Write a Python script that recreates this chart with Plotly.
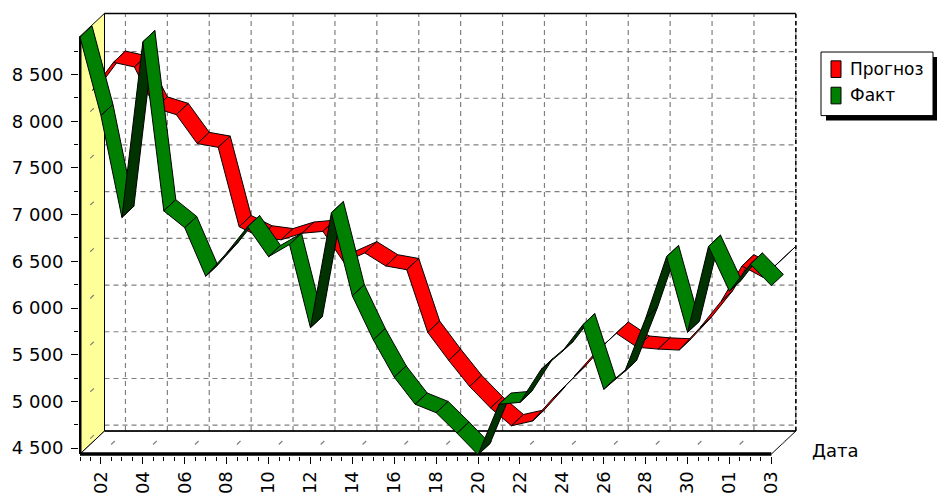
import plotly.graph_objects as go

# ---------------- data ----------------
days = ["01", "02", "03", "04", "05", "06", "07", "08", "09", "10",
        "11", "12", "13", "14", "15", "16", "17", "18", "19", "20",
        "21", "22", "23", "24", "25", "26", "27", "28", "29", "30",
        "31", "01", "02", "03"]

forecast = [8210, 8510, 8460, 8020, 7950, 7640, 7600, 6750, 6640, 6610,
            6680, 6700, 6370, 6470, 6330, 6290, 5620, 5320, 5040, 4810,
            4620, 4670, 4920, 5150, 5400, 5610, 5460, 5440, 5430, 5670,
            5950, 6330, 6210, 6420]

actual = [8900, 8060, 6970, 8850, 7040, 6860, 6340, 6590, 6870, 6550,
          6680, 5790, 7020, 6130, 5660, 5260, 4970, 4880, 4660, 4430,
          4970, 4990, 5340, 5530, 5820, 5130, 5320, 5890, 6550, 5740,
          6660, 6180, 6470, 6240]

series_names = ["Прогноз", "Факт"]
y_ticks = [4500, 5000, 5500, 6000, 6500, 7000, 7500, 8000, 8500]
y_tick_labels = ["4 500", "5 000", "5 500", "6 000", "6 500", "7 000", "7 500", "8 000", "8 500"]
y_minor = [4750, 5250, 5750, 6250, 6750, 7250, 7750, 8250, 8750]
x_tick_idx = list(range(1, len(days), 2))
x_tick_labels = [days[i] for i in x_tick_idx]
x_title = "Дата"

# ---------------- geometry / style ----------------
W, H = 938, 502
PL, PR, PT, PB = 79, 800, 8, 466          # plot area in pixels
PX_CAT = 20.95                             # px per category
PX_VAL = 0.0955                            # px per value unit
X_FRONT0 = 80                              # pixel of first category (front)
Y_REF_PX, Y_REF_V = 458, 4500

def v_at(py):
    return Y_REF_V + (Y_REF_PX - py) / PX_VAL

def u_at(px):
    return (px - X_FRONT0) / PX_CAT

X_RANGE = [u_at(PL), u_at(PR)]
Y_RANGE = [v_at(PB), v_at(PT)]
V_FLOOR = v_at(464)
V_TOP = v_at(37)
N_LAST = len(days) - 1

RIB_PX = (12, 11.5)                                # ribbon depth in px (right, up)
RIB_DX, RIB_DY = RIB_PX[0] / PX_CAT, RIB_PX[1] / PX_VAL
WALL_DX, WALL_DY = 24.5 / PX_CAT, 23.5 / PX_VAL    # full depth to back wall
SLOTS = {"Факт": (0.0, 0.0), "Прогноз": (12.5 / PX_CAT, 11.5 / PX_VAL)}

GREEN, GREEN_DARK = "#008000", "#003300"
RED, RED_DARK = "#FF0000", "#FF0000"
GRID = "#808080"
WALL_YELLOW = "#FFFF99"
FONT = "DejaVu Sans"

fig = go.Figure()

def add_ribbon(vals, name, top_col, under_col):
    ox, oy = SLOTS[name]
    for i in range(len(vals) - 1):
        x0, x1 = i + ox, i + 1 + ox
        y0, y1 = vals[i] + oy, vals[i + 1] + oy
        xs = [x0, x1, x1 + RIB_DX, x0 + RIB_DX, x0]
        ys = [y0, y1, y1 + RIB_DY, y0 + RIB_DY, y0]
        cross = PX_CAT * RIB_PX[1] - (vals[i + 1] - vals[i]) * PX_VAL * RIB_PX[0]
        col = top_col if cross > 0 else under_col
        fig.add_trace(go.Scatter(
            x=xs, y=ys, mode="lines", fill="toself", fillcolor=col,
            line=dict(color="black", width=1), name=name,
            legendgroup=name, showlegend=False, hoverinfo="skip"))

# back series first, front series on top
add_ribbon(forecast, series_names[0], RED, RED_DARK)
add_ribbon(actual, series_names[1], GREEN, GREEN_DARK)

shapes = []

def path(pts):
    return "M " + " L ".join(f"{x},{y}" for x, y in pts) + " Z"

def seg(x0, y0, x1, y1, color="black", width=1, dash="solid"):
    shapes.append(dict(type="line", xref="x", yref="y", x0=x0, y0=y0, x1=x1, y1=y1,
                       line=dict(color=color, width=width, dash=dash), layer="below"))

# back wall
bx0, bx1 = WALL_DX, N_LAST + WALL_DX
by0, by1 = V_FLOOR + WALL_DY, V_TOP + WALL_DY
shapes.append(dict(type="path", xref="x", yref="y",
                   path=path([(bx0, by0), (bx1, by0), (bx1, by1), (bx0, by1)]),
                   fillcolor="white", line=dict(width=0), layer="below"))
for v in y_ticks:
    seg(bx0, v + WALL_DY, bx1, v + WALL_DY, GRID, 1.2, "5px,4px")
for k in x_tick_idx:
    seg(k + WALL_DX, by0, k + WALL_DX, by1, GRID, 1.2, "5px,4px")
seg(bx0, by1, bx1, by1, "black", 1.5)
seg(bx1, by0, bx1, by1, "black", 1.5, "4px,3px")

# side wall (yellow)
shapes.append(dict(type="path", xref="x", yref="y",
                   path=path([(0, V_FLOOR), (0, V_TOP), (bx0, by1), (bx0, by0)]),
                   fillcolor=WALL_YELLOW, line=dict(color="black", width=1), layer="below"))
for v in y_ticks:
    seg(0, v, WALL_DX, v + WALL_DY, GRID, 1.2, "0px,14px,5px,40px")

# floor
shapes.append(dict(type="path", xref="x", yref="y",
                   path=path([(0, V_FLOOR), (N_LAST, V_FLOOR), (bx1, by0), (bx0, by0)]),
                   fillcolor="white", line=dict(color="black", width=1), layer="below"))
for k in x_tick_idx:
    seg(k, V_FLOOR, k + WALL_DX, by0, GRID, 1.2, "0px,14px,5px,40px")
seg(bx0, by0, bx1, by0, "black", 1.5)

# front axes
seg(0, V_FLOOR, N_LAST, V_FLOOR, "black", 3.5)
seg(0, V_FLOOR, 0, V_TOP, "black", 3)

# ---------------- legend (drawn) ----------------
def pxx(px):
    return (px - PL) / (PR - PL)

def pxy(py):
    return (PB - py) / (PB - PT)

def prect(x0, y0, x1, y1, fill, line_w=1):
    shapes.append(dict(type="rect", xref="paper", yref="paper",
                       x0=pxx(x0), x1=pxx(x1), y0=pxy(y1), y1=pxy(y0),
                       fillcolor=fill, line=dict(color="black", width=line_w), layer="above"))

prect(826, 58, 937, 123, "black", 0)
prect(821, 53, 933, 118, "white", 1)
prect(831, 62, 841, 79, RED, 1)
prect(831, 89, 841, 106, GREEN, 1)

annotations = [
    dict(xref="paper", yref="paper", x=pxx(848), y=pxy(70), text=series_names[0],
         showarrow=False, xanchor="left", yanchor="middle",
         font=dict(family=FONT, size=17, color="black")),
    dict(xref="paper", yref="paper", x=pxx(848), y=pxy(97), text=series_names[1],
         showarrow=False, xanchor="left", yanchor="middle",
         font=dict(family=FONT, size=17, color="black")),
    dict(xref="paper", yref="paper", x=pxx(810), y=pxy(460), text=x_title,
         showarrow=False, xanchor="left", yanchor="middle",
         font=dict(family=FONT, size=18, color="black")),
]

fig.update_layout(
    width=W, height=H,
    margin=dict(l=PL, r=W - PR, t=PT, b=H - PB, pad=0),
    paper_bgcolor="white", plot_bgcolor="white",
    showlegend=False,
    shapes=shapes, annotations=annotations,
    xaxis=dict(range=X_RANGE, showgrid=False, zeroline=False, showline=False,
               tickmode="array", tickvals=x_tick_idx, ticktext=x_tick_labels,
               ticks="outside", ticklen=7, tickwidth=1, tickcolor="black",
               tickangle=-90, tickfont=dict(family=FONT, size=18, color="black"),
               minor=dict(tickmode="array", tickvals=[j * 0.5 for j in range(0, 2 * N_LAST + 1)],
                          ticks="outside", ticklen=4, tickcolor="black", tickwidth=1),
               fixedrange=True),
    yaxis=dict(range=Y_RANGE, showgrid=False, zeroline=False, showline=False,
               tickmode="array", tickvals=y_ticks, ticktext=y_tick_labels,
               ticks="outside", ticklen=7, tickwidth=1, tickcolor="black",
               tickfont=dict(family=FONT, size=18, color="black"),
               ticklabelstandoff=4,
               minor=dict(tickmode="array", tickvals=y_minor,
                          ticks="outside", ticklen=4, tickcolor="black", tickwidth=1),
               fixedrange=True),
)

fig.write_html("out.html", config={"displayModeBar": False},
               post_script="document.body.style.margin='0';document.body.style.overflow='hidden';")
